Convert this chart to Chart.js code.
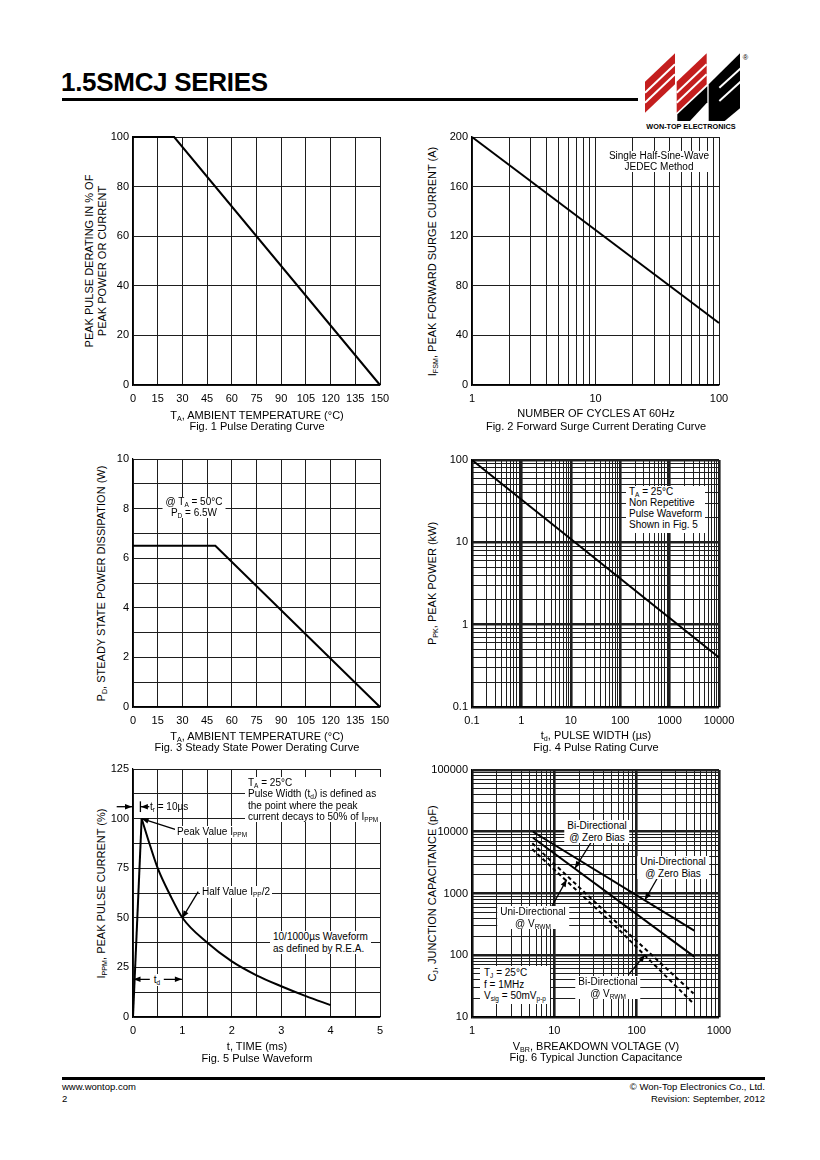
<!DOCTYPE html>
<html>
<head>
<meta charset="utf-8">
<script src="https://cdn.jsdelivr.net/npm/chart.js@4.4.1/dist/chart.umd.min.js"></script>
<style>
  body { margin: 0; background: #fff; }
  #page { position: relative; width: 820px; height: 1160px; overflow: hidden; background: #fff;
          font-family: Arial, "Liberation Sans", sans-serif; color: #000; }
  #page div { position: absolute; white-space: nowrap; }
  canvas { position: absolute; }
  sub { font-size: 65%; vertical-align: -2px; line-height: 0; }
  .t10 { font-size: 10px; line-height: 11.5px; }
  .ctr { transform: translateX(-50%); text-align: center; }
  .bg { background: #fff; padding: 0 3px; }
  .yt { width: 300px; text-align: center; transform: rotate(-90deg); font-size: 11px; line-height: 13px; font-weight: normal; }
  .xt { width: 300px; text-align: center; font-size: 11px; line-height: 12px; }
  .note { z-index: 5; }
</style>
</head>
<body>
<div id="page">
  <!-- header -->
  <div style="left:61px;top:67px;font-size:26px;font-weight:bold;line-height:31px;letter-spacing:-0.3px">1.5SMCJ SERIES</div>
  <div style="left:62px;top:98px;width:576px;height:3px;background:#000"></div>
  <svg style="position:absolute;left:630px;top:45px" width="130" height="90" viewBox="0 0 390 270">
    <polygon points="45,110 135,25 135,118 45,203" fill="#c41e1e"/>
    <polygon points="140,110 230,25 230,118 140,203" fill="#c41e1e"/>
    <polygon points="142,228 142,208 232,124 232,172 180,228" fill="#000"/>
    <polygon points="236,118 330,25 330,190 284,228 236,228" fill="#000"/>
    <g stroke="#fff" stroke-width="6">
      <line x1="45" y1="143" x2="135" y2="58"/>
      <line x1="45" y1="173" x2="135" y2="88"/>
      <line x1="140" y1="143" x2="230" y2="58"/>
      <line x1="140" y1="173" x2="230" y2="88"/>
      <line x1="268" y1="128" x2="334" y2="68"/>
      <line x1="268" y1="168" x2="334" y2="108"/>
    </g>
    <text x="338" y="44" font-size="22" font-family="Arial">&#174;</text>
  </svg>
  <div style="left:691px;top:122px;font-size:7.3px;font-weight:bold;line-height:9px;transform:translateX(-50%)">WON-TOP ELECTRONICS</div>

  <!-- rotated y axis titles (painted under the transparent canvases) -->
  <div class="yt" style="left:-54px;top:248px">PEAK PULSE DERATING IN % OF<br>PEAK POWER OR CURRENT</div>
  <div class="yt" style="left:282px;top:255px">I<sub>FSM</sub>, PEAK FORWARD SURGE CURRENT (A)</div>
  <div class="yt" style="left:-49px;top:577px">P<sub>D</sub>, STEADY STATE POWER DISSIPATION (W)</div>
  <div class="yt" style="left:282px;top:577px">P<sub>PK</sub>, PEAK POWER (kW)</div>
  <div class="yt" style="left:-49px;top:887px">I<sub>PPM</sub>, PEAK PULSE CURRENT (%)</div>
  <div class="yt" style="left:282px;top:887px">C<sub>J</sub>, JUNCTION CAPACITANCE (pF)</div>

  <canvas id="fig1"></canvas>
  <canvas id="fig2"></canvas>
  <canvas id="fig3"></canvas>
  <canvas id="fig4"></canvas>
  <canvas id="fig5"></canvas>
  <canvas id="fig6"></canvas>

  <!-- fig 1 texts -->
  <div class="xt" style="left:107px;top:409px">T<sub>A</sub>, AMBIENT TEMPERATURE (°C)</div>
  <div class="xt" style="left:107px;top:420px">Fig. 1 Pulse Derating Curve</div>

  <!-- fig 2 texts -->
  <div class="xt" style="left:446px;top:407px">NUMBER OF CYCLES AT 60Hz</div>
  <div class="xt" style="left:446px;top:420px">Fig. 2 Forward Surge Current Derating Curve</div>
  <div class="t10 ctr bg note" style="left:659px;top:151px;line-height:10.5px">Single Half-Sine-Wave<br>JEDEC Method</div>

  <!-- fig 3 texts -->
  <div class="xt" style="left:107px;top:730px">T<sub>A</sub>, AMBIENT TEMPERATURE (°C)</div>
  <div class="xt" style="left:107px;top:741px">Fig. 3 Steady State Power Derating Curve</div>
  <div class="t10 ctr bg note" style="left:194px;top:497px;line-height:10.5px">@ T<sub>A</sub> = 50°C<br>P<sub>D</sub> = 6.5W</div>

  <!-- fig 4 texts -->
  <div class="xt" style="left:446px;top:729px">t<sub>d</sub>, PULSE WIDTH (µs)</div>
  <div class="xt" style="left:446px;top:741px">Fig. 4 Pulse Rating Curve</div>
  <div class="t10 bg note" style="left:626px;top:486px;line-height:11px;padding:0 3px 3px 3px">T<sub>A</sub> = 25°C<br>Non Repetitive<br>Pulse Waveform<br>Shown in Fig. 5</div>

  <!-- fig 5 texts -->
  <div class="xt" style="left:107px;top:1040px">t, TIME (ms)</div>
  <div class="xt" style="left:107px;top:1052px">Fig. 5 Pulse Waveform</div>
  <div class="t10 bg note" style="left:245px;top:777px;line-height:11.3px">T<sub>A</sub> = 25°C<br>Pulse Width (t<sub>d</sub>) is defined as<br>the point where the peak<br>current decays to 50% of I<sub>PPM</sub></div>
  <div class="t10 note" style="left:150px;top:801px">t<sub>r</sub> = 10µs</div>
  <div class="t10 bg note" style="left:175px;top:826px;padding:0 2px">Peak Value I<sub>PPM</sub></div>
  <div class="t10 bg note" style="left:200px;top:886px;padding:0 2px">Half Value I<sub>PP</sub>/2</div>
  <div class="t10 bg note" style="left:270px;top:931px">10/1000µs Waveform<br>as defined by R.E.A.</div>
  <div class="t10 ctr bg note" style="left:157px;top:974px;padding:0 4px">t<sub>d</sub></div>

  <!-- fig 6 texts -->
  <div class="xt" style="left:446px;top:1040px">V<sub>BR</sub>, BREAKDOWN VOLTAGE (V)</div>
  <div class="xt" style="left:446px;top:1051px">Fig. 6 Typical Junction Capacitance</div>
  <div class="t10 ctr bg note" style="left:597px;top:820px">Bi-Directional<br>@ Zero Bias</div>
  <div class="t10 ctr bg note" style="left:673px;top:856px">Uni-Directional<br>@ Zero Bias</div>
  <div class="t10 ctr bg note" style="left:533px;top:906px">Uni-Directional<br>@ V<sub>RWM</sub></div>
  <div class="t10 ctr bg note" style="left:608px;top:976px">Bi-Directional<br>@ V<sub>RWM</sub></div>
  <div class="t10 bg note" style="left:480px;top:966px;padding:1px 4px 2px 4px">T<sub>J</sub> = 25°C<br>f = 1MHz<br>V<sub>sig</sub> = 50mV<sub>p-p</sub></div>

  <!-- footer -->
  <div style="left:62px;top:1077px;width:703px;height:3px;background:#000"></div>
  <div style="left:62px;top:1081px;font-size:9.5px;line-height:12px">www.wontop.com<br>2</div>
  <div style="right:55px;top:1081px;font-size:9.5px;line-height:12px;text-align:right">© Won-Top Electronics Co., Ltd.<br>Revision: September, 2012</div>
</div>

<script>
const FONT = 'Arial, "Liberation Sans", sans-serif';

// Fig. 1 pulse derating
const fig1Temp = [0, 25, 150];
const fig1Derating = [100, 100, 0];
const fig1XTicks = [0, 15, 30, 45, 60, 75, 90, 105, 120, 135, 150];
const fig1YTicks = [0, 20, 40, 60, 80, 100];

// Fig. 2 forward surge current
const fig2Cycles = [1, 100];
const fig2Current = [200, 50];
const fig2XTicks = [1, 2, 3, 4, 5, 6, 7, 8, 9, 10, 20, 30, 40, 50, 60, 70, 80, 90, 100];
const fig2XLabels = [1, 10, 100];
const fig2YTicks = [0, 40, 80, 120, 160, 200];

// Fig. 3 steady state power derating
const fig3Temp = [0, 50, 150];
const fig3Power = [6.5, 6.5, 0];
const fig3YTicks = [0, 1, 2, 3, 4, 5, 6, 7, 8, 9, 10];
const fig3YLabels = [0, 2, 4, 6, 8, 10];

// Fig. 4 pulse rating
const fig4Width = [0.1, 10000];
const fig4Power = [100, 0.4];
const fig4XLabels = [0.1, 1, 10, 100, 1000, 10000];
const fig4XText = ['0.1', '1', '10', '100', '1000', '10000'];
const fig4YLabels = [0.1, 1, 10, 100];
const fig4YText = ['0.1', '1', '10', '100'];

// Fig. 5 pulse waveform
const fig5RiseT = [0, 0.175];
const fig5RiseI = [0, 100];
const fig5DecayT = [0.175, 0.3, 0.5, 0.75, 1, 1.5, 2, 2.5, 3, 3.5, 4];
const fig5DecayI = [100, 90, 75, 61.5, 50, 37.5, 28, 21, 15.5, 10.5, 6];
const fig5XTicks = [0, 0.5, 1, 1.5, 2, 2.5, 3, 3.5, 4, 4.5, 5];
const fig5XLabels = [0, 1, 2, 3, 4, 5];
const fig5YTicks = [0, 12.5, 25, 37.5, 50, 62.5, 75, 87.5, 100, 112.5, 125];
const fig5YLabels = [0, 25, 50, 75, 100, 125];

// Fig. 6 junction capacitance
const uniZeroV = [5.5, 500];
const uniZeroC = [10000, 250];
const biZeroV = [5.5, 500];
const biZeroC = [8000, 95];
const uniRwmV = [5.4, 60, 490];
const uniRwmC = [6500, 320, 24];
const biRwmV = [5.4, 60, 490];
const biRwmC = [5200, 265, 16.5];
const fig6XLabels = [1, 10, 100, 1000];
const fig6XText = ['1', '10', '100', '1000'];
const fig6YLabels = [10, 100, 1000, 10000, 100000];
const fig6YText = ['10', '100', '1000', '10000', '100000'];

// canvas margins around each plot area
const M = { l: 44, t: 10, r: 24, b: 26 };

function logGrid(lo, hi) {
  const out = [];
  for (let k = lo; k < hi; k++) for (let m = 1; m < 10; m++) out.push(m * Math.pow(10, k));
  out.push(Math.pow(10, hi));
  return out;
}

function axis(pos, type, min, max, grid, labels, text, heavy) {
  const bottom = pos === 'bottom';
  return {
    type: type, position: pos, min: min, max: max,
    afterBuildTicks(s) { s.ticks = grid.map(v => ({ value: v })); },
    afterFit(s) {
      if (bottom) { s.height = M.b; s.paddingLeft = 0; s.paddingRight = 0; }
      else { s.width = M.l; s.paddingTop = 0; s.paddingBottom = 0; }
    },
    grid: {
      drawTicks: false, color: '#1e1e1e',
      lineWidth: c => (heavy && c.tick && heavy.includes(c.tick.value)) ? 2.6 : 1
    },
    border: { color: '#000', width: 1.2 },
    ticks: {
      autoSkip: false, maxRotation: 0, color: '#000',
      font: { family: FONT, size: 11 }, padding: bottom ? 7 : 4,
      callback(v) {
        const k = labels.indexOf(v);
        if (k < 0) return '';
        return text ? text[k] : String(v);
      }
    }
  };
}

function head(ctx, x1, y1, x2, y2) {
  const a = Math.atan2(y2 - y1, x2 - x1), L = 7, W = 2.8;
  ctx.beginPath();
  ctx.moveTo(x2, y2);
  ctx.lineTo(x2 - L * Math.cos(a) + W * Math.sin(a), y2 - L * Math.sin(a) - W * Math.cos(a));
  ctx.lineTo(x2 - L * Math.cos(a) - W * Math.sin(a), y2 - L * Math.sin(a) + W * Math.cos(a));
  ctx.closePath();
  ctx.fill();
}

function arrowPlugin(list) {
  return {
    id: 'arrows',
    afterDatasetsDraw(chart) {
      const ctx = chart.ctx, sx = chart.scales.x, sy = chart.scales.y;
      ctx.save();
      ctx.strokeStyle = '#000';
      ctx.fillStyle = '#000';
      ctx.lineWidth = 1.3;
      list.forEach(a => {
        const x1 = sx.getPixelForValue(a.from[0]), y1 = sy.getPixelForValue(a.from[1]);
        const x2 = sx.getPixelForValue(a.to[0]), y2 = sy.getPixelForValue(a.to[1]);
        ctx.beginPath(); ctx.moveTo(x1, y1); ctx.lineTo(x2, y2); ctx.stroke();
        if (a.head === 'end' || a.head === 'both') head(ctx, x1, y1, x2, y2);
        if (a.head === 'both') head(ctx, x2, y2, x1, y1);
      });
      ctx.restore();
    }
  };
}

function line(xs, ys, dash) {
  return {
    data: xs.map((x, i) => ({ x: x, y: ys[i] })),
    showLine: true, borderColor: '#000', borderWidth: 2, pointRadius: 0,
    borderDash: dash || [], tension: 0, clip: 3
  };
}

function makeChart(id, plot, xAxis, yAxis, datasets, arrows) {
  const cv = document.getElementById(id);
  cv.width = plot[2] - plot[0] + M.l + M.r;
  cv.height = plot[3] - plot[1] + M.t + M.b;
  cv.style.left = (plot[0] - M.l) + 'px';
  cv.style.top = (plot[1] - M.t) + 'px';
  return new Chart(cv, {
    type: 'scatter',
    data: { datasets: datasets },
    options: {
      responsive: false, animation: false, events: [],
      layout: { padding: { left: 0, top: M.t, right: M.r, bottom: 0 } },
      plugins: { legend: { display: false }, tooltip: { enabled: false } },
      scales: { x: xAxis, y: yAxis }
    },
    plugins: [arrowPlugin(arrows || [])]
  });
}

// Fig. 1
makeChart('fig1', [133, 137, 380, 385],
  axis('bottom', 'linear', 0, 150, fig1XTicks, fig1XTicks),
  axis('left', 'linear', 0, 100, fig1YTicks, fig1YTicks),
  [line(fig1Temp, fig1Derating)]);

// Fig. 2
makeChart('fig2', [472, 137, 719, 385],
  axis('bottom', 'logarithmic', 1, 100, fig2XTicks, fig2XLabels),
  axis('left', 'linear', 0, 200, fig2YTicks, fig2YTicks),
  [line(fig2Cycles, fig2Current)]);

// Fig. 3
makeChart('fig3', [133, 459, 380, 707],
  axis('bottom', 'linear', 0, 150, fig1XTicks, fig1XTicks),
  axis('left', 'linear', 0, 10, fig3YTicks, fig3YLabels),
  [line(fig3Temp, fig3Power)]);

// Fig. 4
makeChart('fig4', [472, 460, 719, 707],
  axis('bottom', 'logarithmic', 0.1, 10000, logGrid(-1, 4), fig4XLabels, fig4XText, fig4XLabels),
  axis('left', 'logarithmic', 0.1, 100, logGrid(-1, 2), fig4YLabels, fig4YText, fig4YLabels),
  [line(fig4Width, fig4Power)]);

// Fig. 5
const fig5Arrows = [
  { from: [0.885, 94.3], to: [0.175, 100], head: 'end' },
  { from: [1.32, 63.2], to: [1, 50], head: 'end' },
  { from: [-0.33, 106], to: [-0.02, 106], head: 'end' },
  { from: [0.15, 103.3], to: [0.15, 108.7], head: 'none' },
  { from: [0.33, 106], to: [0.16, 106], head: 'end' },
  { from: [0.01, 19], to: [0.99, 19], head: 'both' }
];
const fig5Rise = line(fig5RiseT, fig5RiseI);
const fig5Decay = line(fig5DecayT, fig5DecayI);
fig5Decay.cubicInterpolationMode = 'monotone';
makeChart('fig5', [133, 769, 380, 1017],
  axis('bottom', 'linear', 0, 5, fig5XTicks, fig5XLabels),
  axis('left', 'linear', 0, 125, fig5YTicks, fig5YLabels),
  [fig5Rise, fig5Decay], fig5Arrows);

// Fig. 6
const fig6Arrows = [
  { from: [28.4, 6960], to: [17.8, 2560], head: 'end' },
  { from: [183, 1884], to: [126, 790], head: 'end' },
  { from: [9.3, 615], to: [14.1, 1665], head: 'end' },
  { from: [79, 48], to: [126, 101], head: 'end' }
];
makeChart('fig6', [472, 770, 719, 1017],
  axis('bottom', 'logarithmic', 1, 1000, logGrid(0, 3), fig6XLabels, fig6XText, fig6XLabels),
  axis('left', 'logarithmic', 10, 100000, logGrid(1, 5), fig6YLabels, fig6YText, fig6YLabels),
  [line(uniZeroV, uniZeroC), line(biZeroV, biZeroC),
   line(uniRwmV, uniRwmC, [4, 3]), line(biRwmV, biRwmC, [4, 3])],
  fig6Arrows);
</script>
</body>
</html>
